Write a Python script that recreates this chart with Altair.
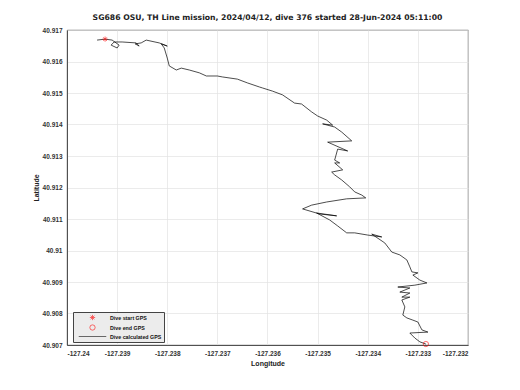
import altair as alt
import pandas as pd

title_text = "SG686 OSU, TH Line mission, 2024/04/12, dive 376 started 28-Jun-2024 05:11:00"

track_lon = [
    -127.2394, -127.23924, -127.2391, -127.23896, -127.239, -127.23912, -127.23906, -127.2389,
    -127.23862, -127.23856, -127.23864, -127.23852, -127.23842, -127.23816, -127.238, -127.23812,
    -127.23806, -127.238, -127.23796, -127.23782, -127.23772, -127.23756, -127.23736, -127.23722,
    -127.237, -127.2369, -127.2366, -127.2364, -127.23616, -127.2361, -127.2359, -127.2357,
    -127.23546, -127.23532, -127.23512, -127.235, -127.23482, -127.2347, -127.2349, -127.23466,
    -127.23452, -127.23432, -127.2348, -127.2344, -127.2346, -127.23466, -127.23456, -127.23466,
    -127.2345, -127.23472, -127.23466, -127.23452, -127.23436, -127.23426, -127.23412, -127.23404,
    -127.23442, -127.23482, -127.23512, -127.2353, -127.23496, -127.23462, -127.23502, -127.23476,
    -127.2346, -127.23442, -127.23426, -127.234, -127.23372, -127.23392, -127.23366, -127.23352,
    -127.23336, -127.23322, -127.23316, -127.23312, -127.233, -127.2331, -127.23296, -127.23282,
    -127.23306, -127.2334, -127.23316, -127.23336, -127.23316, -127.23332, -127.23316, -127.23332,
    -127.23326, -127.2333, -127.23322, -127.2331, -127.233, -127.23292, -127.2328, -127.23316,
    -127.23306, -127.23296, -127.23284,
]
track_lat = [
    40.91668, 40.91671, 40.91668, 40.91652, 40.91643, 40.91652, 40.91662, 40.91662,
    40.91659, 40.91649, 40.91656, 40.91659, 40.91668, 40.91659, 40.91649, 40.91656,
    40.91643, 40.91611, 40.91586, 40.91573, 40.91579, 40.91573, 40.91564, 40.91554,
    40.91554, 40.91551, 40.91544, 40.91532, 40.91519, 40.91516, 40.91506, 40.91494,
    40.91468, 40.91465, 40.9144, 40.91427, 40.91414, 40.91398, 40.91402, 40.91392,
    40.91376, 40.91348, 40.91344, 40.91316, 40.91322, 40.91287, 40.91278, 40.91278,
    40.91256, 40.91249, 40.9124, 40.91224, 40.91202, 40.91186, 40.91176, 40.91167,
    40.91164, 40.91154, 40.91144, 40.91132, 40.91116, 40.9111, 40.91119, 40.91097,
    40.91078, 40.91056, 40.91056, 40.91049, 40.91043, 40.91052, 40.91024, 40.90995,
    40.90986, 40.9097, 40.90948, 40.90932, 40.90929, 40.90922, 40.90906, 40.90897,
    40.9089, 40.90884, 40.90881, 40.90868, 40.90865, 40.90852, 40.90852, 40.90843,
    40.90821, 40.90795, 40.90786, 40.90779, 40.90773, 40.90748, 40.90741, 40.90738,
    40.90722, 40.9071, 40.90703,
]

marker_names = ["Dive start GPS", "Dive end GPS"]
marker_lon = [-127.23924, -127.23284]
marker_lat = [40.91671, 40.90703]

legend_names = ["Dive start GPS", "Dive end GPS", "Dive calculated GPS"]
x_ticks = [-127.24, -127.239, -127.238, -127.237, -127.236, -127.235, -127.234, -127.233, -127.232]
y_ticks = [40.907, 40.908, 40.909, 40.91, 40.911, 40.912, 40.913, 40.914, 40.915, 40.916, 40.917]

track = pd.DataFrame({"lon": track_lon, "lat": track_lat, "i": range(len(track_lon))})
markers = pd.DataFrame({"lon": marker_lon, "lat": marker_lat, "kind": marker_names})

asterisk = "M-1,0L1,0M0,-1L0,1M-0.7,-0.7L0.7,0.7M-0.7,0.7L0.7,-0.7"
long_stroke = "M-5.2,0L5.2,0"

lab_expr = "replace(format(datum.value, '.3~f'), '\u2212', '-')"

xenc = alt.X("lon:Q", scale=alt.Scale(domain=[-127.24, -127.232], nice=False, zero=False),
             axis=alt.Axis(values=x_ticks, title="Longitude", labelExpr=lab_expr))
yenc = alt.Y("lat:Q", scale=alt.Scale(domain=[40.907, 40.917], nice=False, zero=False),
             axis=alt.Axis(values=y_ticks, title="Latitude", labelExpr=lab_expr))

line = alt.Chart(track).mark_line(color="black", strokeWidth=0.7).encode(
    x=xenc, y=yenc, order="i:Q"
)

leg = alt.Legend(title=None, orient="none", legendX=6, legendY=282)
pts = alt.Chart(markers).mark_point(filled=False, size=28, strokeWidth=0.8).encode(
    x=xenc, y=yenc,
    color=alt.Color("kind:N", scale=alt.Scale(domain=legend_names, range=["#ff0000", "#ff0000", "#000000"]),
                    legend=leg),
    shape=alt.Shape("kind:N", scale=alt.Scale(domain=legend_names, range=[asterisk, "circle", long_stroke]),
                    legend=leg),
)

chart = alt.layer(line, pts).properties(
    width=401, height=315,
    title=alt.TitleParams(title_text, fontSize=7.7, font="DejaVu Sans", fontWeight="bold",
                          color="#222", offset=5),
    padding={"left": 24, "top": 6, "right": 5, "bottom": 5},
).configure_view(stroke="#333", strokeWidth=0.8).configure_axis(
    grid=True, gridColor="#e3e3e3", gridWidth=0.7,
    domainColor="#333", domainWidth=0.8,
    ticks=False,
    labelFont="Liberation Sans", labelFontSize=6.5, labelFontWeight="bold", labelColor="#333",
    titleFont="Liberation Sans", titleFontSize=7, titleFontWeight="bold", titleColor="#222",
    labelPadding=5, titlePadding=3,
).configure_legend(
    fillColor="#ececec", strokeColor="#444", padding=2,
    labelFont="Liberation Sans", labelFontSize=5.3, labelFontWeight="bold", labelColor="#111",
    symbolStrokeWidth=0.8, rowPadding=1, symbolSize=28, symbolOffset=14, labelOffset=14,
)

chart.save("out.html", embed_options={"renderer": "svg", "actions": False})
